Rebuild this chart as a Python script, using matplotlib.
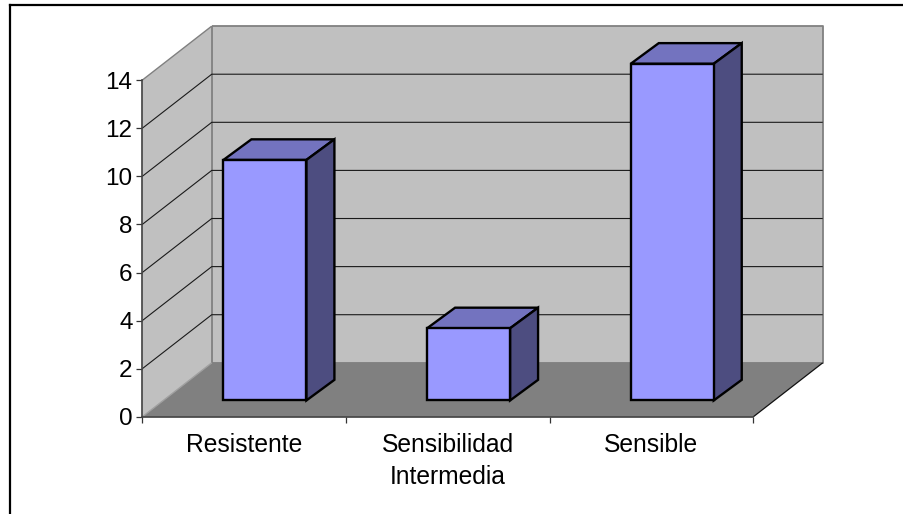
import matplotlib
matplotlib.use("Agg")
from matplotlib import pyplot as plt
from matplotlib.patches import Polygon

categories = ["Resistente", "Sensibilidad\nIntermedia", "Sensible"]
values = [10, 3, 14]
yticks = [0, 2, 4, 6, 8, 10, 12, 14]

# depth of the fake 3d box, in data units
wall_dx, wall_dy = 0.341, 2.245
bar_dx, bar_dy = 0.1375, 0.857
shift_x, shift_y = 0.102, 0.68
bar_w = 0.4075
xmax, ymax = 3, 14

plt.rcParams["font.family"] = ["Liberation Sans", "DejaVu Sans"]

fig = plt.figure(figsize=(9.04, 5.14), dpi=100)
ax = fig.add_axes([142.3 / 904, (514 - 416.8) / 514, 611 / 904, 336.7 / 514])
ax.set_xlim(0, xmax)
ax.set_ylim(0, ymax)
ax.patch.set_visible(False)


def poly(pts, fc, ec="none", lw=0, z=1):
    ax.add_patch(Polygon(pts, closed=True, fc=fc, ec=ec, lw=lw, zorder=z,
                         clip_on=False, joinstyle="miter"))


def line(xs, ys, c, lw=1.0, z=2):
    ax.plot(xs, ys, color=c, lw=lw, zorder=z, clip_on=False, solid_capstyle="butt")


# walls and floor
poly([(wall_dx, wall_dy), (xmax + wall_dx, wall_dy), (xmax + wall_dx, ymax + wall_dy), (wall_dx, ymax + wall_dy)], "#c0c0c0")
poly([(0, 0), (wall_dx, wall_dy), (wall_dx, ymax + wall_dy), (0, ymax)], "#c0c0c0")
poly([(0, 0), (xmax, 0), (xmax + wall_dx, wall_dy), (wall_dx, wall_dy)], "#808080")

line([wall_dx, xmax + wall_dx, xmax + wall_dx, wall_dx, wall_dx],
     [ymax + wall_dy, ymax + wall_dy, wall_dy, wall_dy, ymax + wall_dy], "#808080", 1.3)
line([0, wall_dx], [ymax, ymax + wall_dy], "#808080", 1.0)
line([0, wall_dx], [0, wall_dy], "#a0a0a0", 1.0)

# gridlines
for v in yticks[1:-1]:
    line([0, wall_dx, xmax + wall_dx], [v, v + wall_dy, v + wall_dy], "#1a1a1a", 0.8, 3)
line([xmax, xmax + wall_dx], [0, wall_dy], "#111111", 0.9)

# bars
for i, val in enumerate(values):
    x0 = i + 0.5 + shift_x - bar_w / 2
    x1 = x0 + bar_w
    y0 = shift_y
    y1 = y0 + val
    poly([(x0, y1), (x0 + bar_dx, y1 + bar_dy), (x1 + bar_dx, y1 + bar_dy), (x1, y1)], "#7373bf", "black", 1.7, 5)
    poly([(x1, y0), (x1 + bar_dx, y0 + bar_dy), (x1 + bar_dx, y1 + bar_dy), (x1, y1)], "#4d4d80", "black", 1.7, 5)
    poly([(x0, y0), (x1, y0), (x1, y1), (x0, y1)], "#9999ff", "black", 1.7, 6)

# axes
for s in ["top", "right"]:
    ax.spines[s].set_visible(False)
for s in ["left", "bottom"]:
    ax.spines[s].set_color("#404040")
    ax.spines[s].set_linewidth(1.2)
    ax.spines[s].set_zorder(4)
ax.set_yticks(yticks)
ax.tick_params(axis="y", length=4.5, width=0.9, color="#333333", pad=2.5, labelsize=17.5)
ax.set_xticks([0, 1, 2, 3])
ax.set_xticklabels([])
ax.set_xticks([0.5, 1.5, 2.5], minor=True)
ax.set_xticklabels(categories, minor=True, fontsize=17.7, linespacing=1.42)
ax.tick_params(axis="x", which="major", length=4, width=0.9, color="#333333")
ax.tick_params(axis="x", which="minor", length=0, pad=12)

# outer frame, runs off the right and bottom of the picture
fig.add_artist(plt.Line2D([10 / 904, 10 / 904], [0, 1 - 5 / 514], color="black", lw=1.6, solid_capstyle="projecting"))
fig.add_artist(plt.Line2D([10 / 904, 1], [1 - 5 / 514, 1 - 5 / 514], color="black", lw=1.6, solid_capstyle="projecting"))

fig.savefig("out.png", dpi=100)
